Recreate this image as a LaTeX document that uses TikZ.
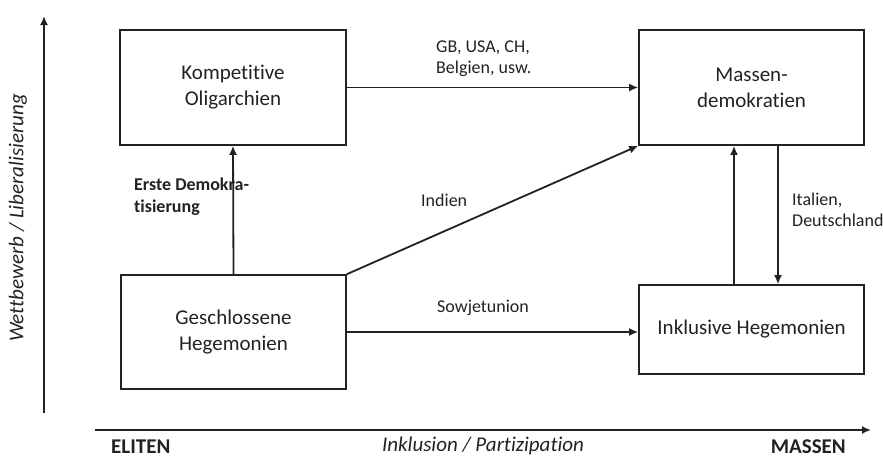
\documentclass[tikz,border=0pt]{standalone}
\usepackage{fontspec}
\setmainfont{Carlito}[Ligatures={TeX,NoCommon}]
\usetikzlibrary{arrows.meta}
\definecolor{ink}{HTML}{222222}
\tikzset{
  stagebox/.style={draw=ink, line width=1.6pt, inner sep=0pt, align=center,
    text=ink, font=\fontsize{21}{26}\selectfont},
  flow/.style={draw=ink, line width=1.8pt, -{Latex[length=9pt,width=8pt]}},
  lbl/.style={text=ink, align=left, inner sep=0pt, font=\fontsize{18}{21}\selectfont},
  axislbl/.style={text=ink, inner sep=0pt},
}
\begin{document}
\begin{tikzpicture}[x=1pt, y=-1pt]
\useasboundingbox (0,0) rectangle (883,459);

% the four regime types
\node[stagebox, minimum width=226pt, minimum height=115pt] (komp) at (233,87.5) {Kompetitive\\Oligarchien};
\node[stagebox, minimum width=225pt, minimum height=115pt] (mass) at (751.5,87.5) {Massen-\\demokratien};
\node[stagebox, minimum width=225pt, minimum height=114pt] (gesch) at (233.5,332) {Geschlossene\\Hegemonien};
\node[stagebox, minimum width=225pt, minimum height=89pt] (inkl) at (751.5,329.5) {Inklusive Hegemonien};

% transitions between them
\draw[flow] (komp.east) -- (mass.west);
\draw[flow] (gesch.north) -- (komp.south);
\draw[flow] (gesch.north east) -- (mass.south west);
\draw[flow] (gesch.east) -- (gesch.east -| inkl.west);
\draw[flow] ([xshift=-17.5pt]inkl.north) -- ([xshift=-17.5pt]mass.south);
\draw[flow] ([xshift=26.5pt]mass.south) -- ([xshift=26.5pt]inkl.north);

% transition labels
\node[lbl, anchor=west] (lgb) at (436,58.5) {GB, USA, CH,\\Belgien, usw.};
\node[lbl, anchor=west, font=\bfseries\fontsize{18}{22}\selectfont] (lerst) at (134,197) {Erste Demokra-\\tisierung};
\node[lbl, anchor=west] (lind) at (421,200) {Indien};
\node[lbl, anchor=west] (lital) at (792,210) {Italien,\\Deutschland};
\node[lbl, anchor=west] (lsow) at (437,308) {Sowjetunion};

% axes
\coordinate (ybot) at (44,413);
\coordinate (ytop) at (44,16);
\coordinate (xleft) at (95,430);
\coordinate (xright) at (871,430);
\draw[flow] (ybot) -- (ytop);
\draw[flow] (xleft) -- (xright);

\node[axislbl, anchor=west, font=\bfseries\fontsize{21}{24}\selectfont] (eliten) at (111,446.5) {ELITEN};
\node[axislbl, font=\itshape\fontsize{21}{24}\selectfont] (incl) at (483,446) {Inklusion / Partizipation};
\node[axislbl, anchor=east, font=\bfseries\fontsize{21}{24}\selectfont] (massen) at (846,446.5) {MASSEN};
\node[axislbl, rotate=90, font=\itshape\fontsize{21}{24}\selectfont] (wett) at (18,218) {Wettbewerb / Liberalisierung};
\end{tikzpicture}
\end{document}
